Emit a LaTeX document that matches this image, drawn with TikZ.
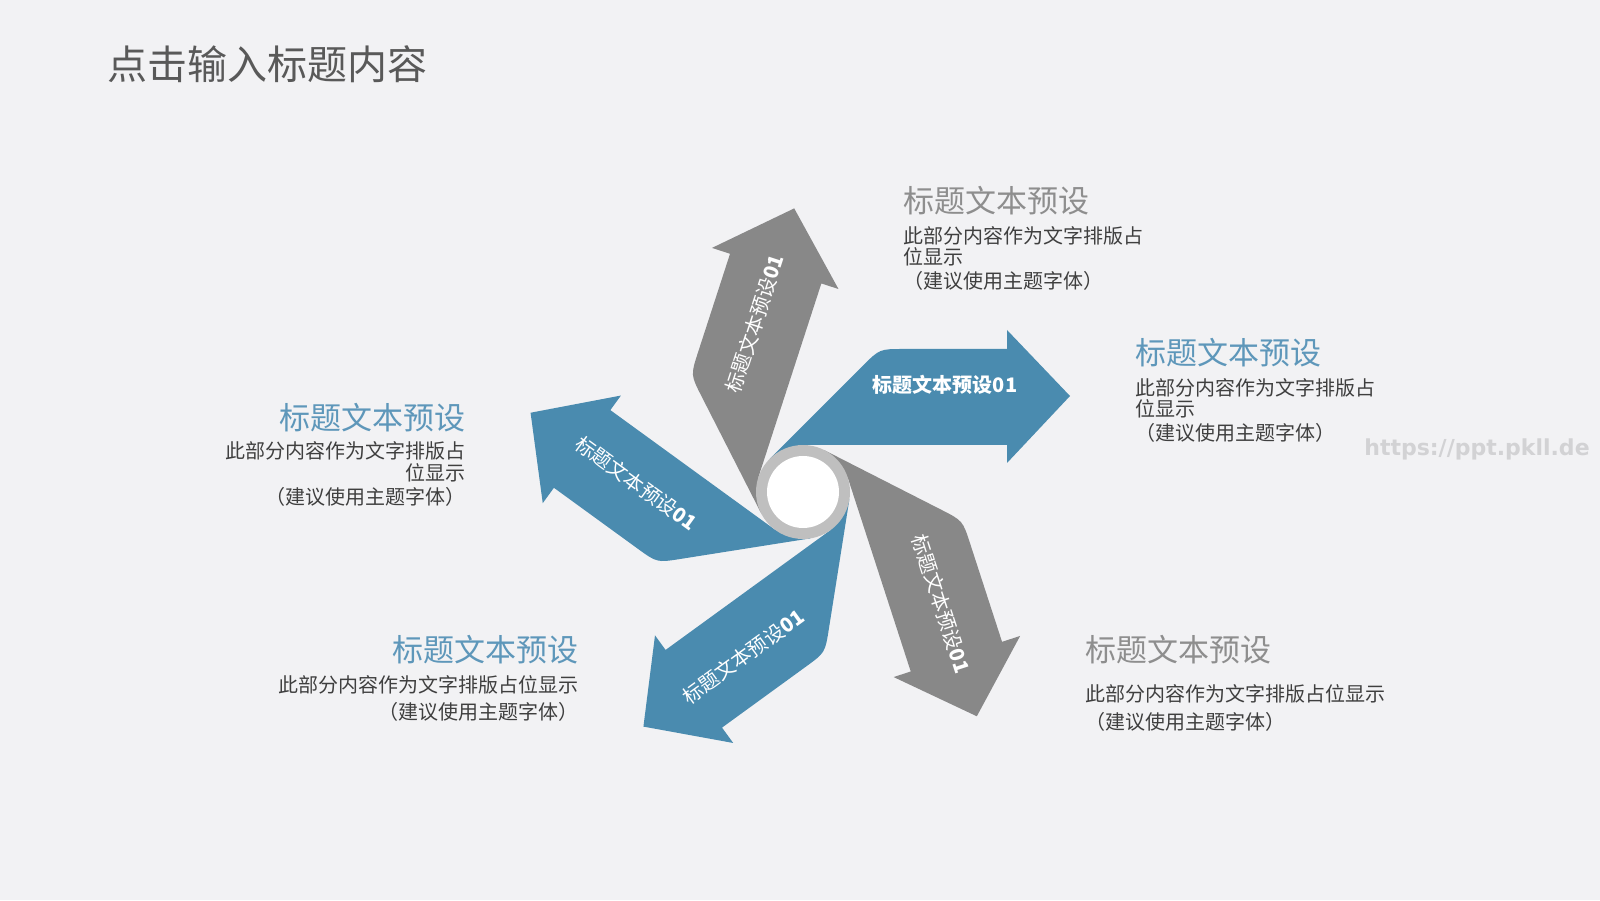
\documentclass[tikz,border=0pt]{standalone}
\usepackage{fontspec}
\setmainfont{Noto Sans CJK SC}
\newfontfamily\wmfont{DejaVu Sans}
\definecolor{bg}{HTML}{F2F2F4}
\definecolor{arrowblue}{HTML}{4A8BAF}
\definecolor{arrowgray}{HTML}{888888}
\definecolor{ringgray}{HTML}{BFBFBF}
\definecolor{headblue}{HTML}{5E97BA}
\definecolor{headgray}{HTML}{8E8E8E}
\definecolor{bodytext}{HTML}{3F3F3F}
\definecolor{titlegray}{HTML}{595959}
\definecolor{wmgray}{HTML}{D2D2D4}
\tikzset{
  pinarrow/.pic={
    \fill[pic actions] (0,0) -- (0,47) -- (204,47) -- (204,29) -- (267,96)
      -- (204,162) -- (204,143) -- (100.6,143) .. controls (76.6,143) .. (59.6,126)
      -- (-33.2,33.2) -- cycle;
  },
  albl/.style={text=white, inner sep=0, font=\fontsize{10pt}{12pt}\selectfont},
  headtxt/.style={inner sep=0, font=\fontsize{15.5pt}{18pt}\selectfont},
  bodytxt/.style={inner sep=0, text=bodytext, font=\fontsize{10pt}{12pt}\selectfont},
}
\begin{document}
\begin{tikzpicture}[x=0.5pt,y=0.5pt]
\useasboundingbox (0,0) rectangle (1600,900);
\fill[bg] (0,0) rectangle (1600,900);
\coordinate (C) at (803,408);

% title
\node[anchor=west, inner sep=0, text=titlegray, font=\fontsize{20pt}{24pt}\selectfont] (title) at (107,836) {点击输入标题内容};

% arrows
\pic[fill=arrowblue] (a0) at (C) {pinarrow};
\pic[fill=arrowgray, rotate=72] (a1) at (C) {pinarrow};
\pic[fill=arrowblue, rotate=144] (a2) at (C) {pinarrow};
\pic[fill=arrowblue, rotate=216] (a3) at (C) {pinarrow};
\pic[fill=arrowgray, rotate=288] (a4) at (C) {pinarrow};

% centre ring
\fill[ringgray] (C) circle[radius=47];
\fill[white] (C) circle[radius=36];

% arrow labels
\node[albl] (l0) at ([shift={(37:178)}]C) {\bfseries 标题文本预设01};
\node[albl, rotate=72] (l1) at ([shift={(106:175)}]C) {标题文本预设\textbf{01}};
\node[albl, rotate=-36] (l2) at ([shift={(177:167)}]C) {标题文本预设\textbf{01}};
\node[albl, rotate=36] (l3) at ([shift={(250:175)}]C) {标题文本预设\textbf{01}};
\node[albl, rotate=-72] (l4) at ([shift={(321:178)}]C) {标题文本预设\textbf{01}};

% top block
\node[headtxt, text=headgray, anchor=west] (h1) at (903,699) {标题文本预设};
\node[bodytxt, anchor=west] (b1a) at (903,664.3) {此部分内容作为文字排版占};
\node[bodytxt, anchor=west] (b1b) at (903,643) {位显示};
\node[bodytxt, anchor=west] (b1c) at (903,619.4) {（建议使用主题字体）};

% right block
\node[headtxt, text=headblue, anchor=west] (h2) at (1135,547) {标题文本预设};
\node[bodytxt, anchor=west] (b2a) at (1135,512.2) {此部分内容作为文字排版占};
\node[bodytxt, anchor=west] (b2b) at (1135,490.8) {位显示};
\node[bodytxt, anchor=west] (b2c) at (1135,467.3) {（建议使用主题字体）};

% left block
\node[headtxt, text=headblue, anchor=east] (h3) at (466,482.7) {标题文本预设};
\node[bodytxt, anchor=east] (b3a) at (466,449) {此部分内容作为文字排版占};
\node[bodytxt, anchor=east] (b3b) at (466,427.6) {位显示};
\node[bodytxt, anchor=east] (b3c) at (466,403) {（建议使用主题字体）};

% lower-left block
\node[headtxt, text=headblue, anchor=east] (h4) at (579,250) {标题文本预设};
\node[bodytxt, anchor=east] (b4a) at (579,215.3) {此部分内容作为文字排版占位显示};
\node[bodytxt, anchor=east] (b4b) at (579,187.8) {（建议使用主题字体）};

% lower-right block
\node[headtxt, text=headgray, anchor=west] (h5) at (1085,250) {标题文本预设};
\node[bodytxt, anchor=west] (b5a) at (1085,206.1) {此部分内容作为文字排版占位显示};
\node[bodytxt, anchor=west] (b5b) at (1085,178.6) {（建议使用主题字体）};

% watermark
\node[inner sep=0, text=wmgray, font=\wmfont\bfseries\fontsize{11pt}{13pt}\selectfont] (wm) at (1477,451) {https://ppt.pkll.de};
\end{tikzpicture}
\end{document}
